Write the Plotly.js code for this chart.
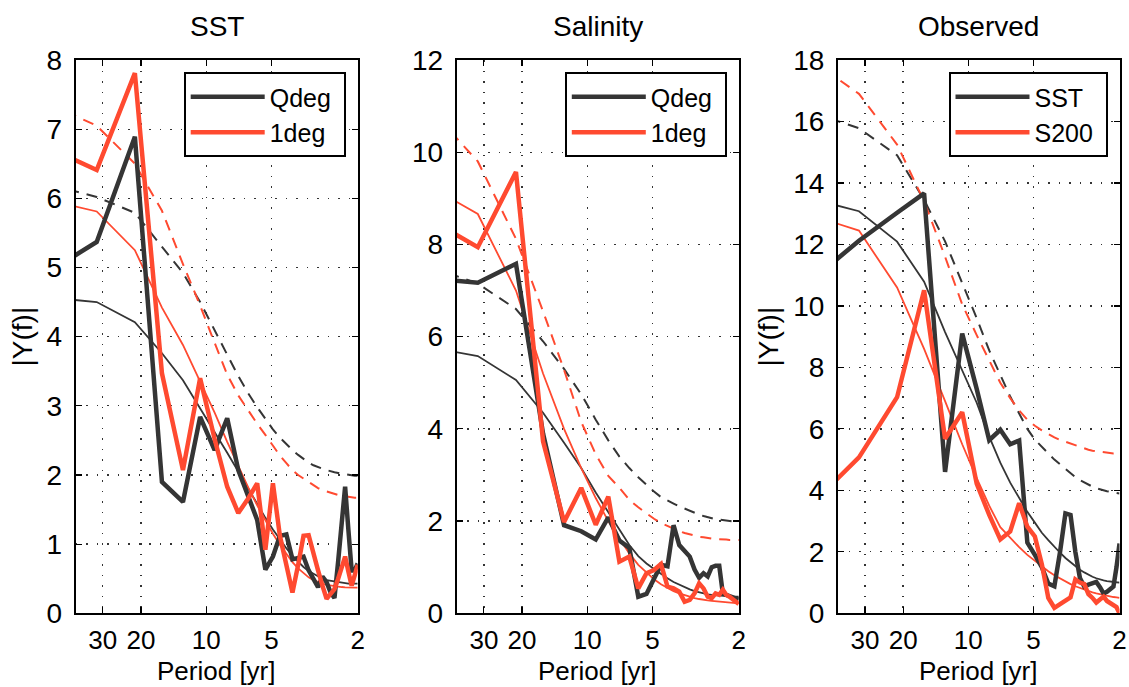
<!DOCTYPE html>
<html><head><meta charset="utf-8">
<script src="https://cdn.plot.ly/plotly-3.0.1.min.js"></script>
<style>html,body{margin:0;padding:0;background:#fff;}#chart{width:1129px;height:687px;}</style>
</head><body><div id="chart"></div>
<script>
// Periods (yr) of the spectral estimates (64-yr record, bins k = 1..32)
const periods = [64, 32, 21.333, 16, 12.8, 10.667, 9.143, 8, 7.111, 6.4, 5.818, 5.333, 4.923, 4.571, 4.267, 4,
                 3.765, 3.556, 3.368, 3.2, 3.048, 2.909, 2.783, 2.667, 2.56, 2.462, 2.370, 2.286, 2.207, 2.133, 2.065, 2];
const periodTicks = [30, 20, 10, 5, 2];
const periodTickLabels = ['30', '20', '10', '5', '2'];
const panelTitles = ['SST', 'Salinity', 'Observed'];
const xTitle = 'Period [yr]';
const yTitle = '|Y(f)|';

// Panel 1: SST
const sstQdeg      = [4.78,5.37,6.89,1.90,1.61,2.84,2.36,2.82,2.07,1.68,1.35,0.63,0.82,1.12,1.14,0.78,0.80,0.82,0.62,0.50,0.38,0.53,0.45,0.30,0.22,0.75,1.30,1.83,1.20,0.62,0.62,0.72];
const sst1deg      = [6.84,6.41,7.81,3.47,2.07,3.40,2.52,1.83,1.45,1.66,1.88,0.92,1.88,1.12,0.70,0.30,0.70,1.12,1.13,0.85,0.62,0.40,0.21,0.28,0.35,0.50,0.68,0.82,0.60,0.40,0.55,0.70];
const sstQdegFit   = [4.59,4.50,4.21,3.76,3.37,2.97,2.62,2.32,2.05,1.80,1.58,1.38,1.21,1.06,0.94,0.83,0.74,0.67,0.61,0.57,0.53,0.50,0.48,0.47,0.46,0.45,0.44,0.44,0.43,0.43,0.43,0.43];
const sst1degFit   = [6.03,5.81,5.25,4.42,3.88,3.35,2.90,2.48,2.12,1.82,1.56,1.34,1.15,0.99,0.86,0.74,0.65,0.58,0.52,0.48,0.45,0.43,0.41,0.40,0.39,0.385,0.38,0.375,0.37,0.37,0.37,0.37];
const sstQdegConf  = [6.27,6.02,5.79,5.30,4.92,4.50,4.08,3.74,3.43,3.18,2.98,2.81,2.66,2.54,2.44,2.36,2.29,2.23,2.18,2.14,2.11,2.09,2.07,2.05,2.04,2.03,2.02,2.01,2.00,2.00,1.99,1.99];
const sst1degConf  = [7.48,7.05,6.50,5.82,5.05,4.45,3.91,3.45,3.15,2.93,2.74,2.58,2.42,2.28,2.17,2.07,2.00,1.95,1.90,1.85,1.81,1.78,1.76,1.74,1.72,1.71,1.70,1.69,1.68,1.68,1.67,1.67];

// Panel 2: Salinity
const salQdeg      = [7.29,7.17,7.58,3.90,1.91,1.78,1.60,2.08,1.58,1.42,0.36,0.42,0.75,1.05,1.02,1.91,1.48,1.36,1.23,0.95,0.77,0.87,0.80,1.00,1.03,1.03,0.43,0.40,0.38,0.36,0.34,0.30];
const sal1deg      = [8.75,7.94,9.57,3.73,1.98,2.72,1.92,2.53,1.12,1.23,0.54,0.87,0.94,1.07,0.58,0.54,0.47,0.25,0.29,0.43,0.65,0.54,0.36,0.33,0.43,0.40,0.51,0.40,0.36,0.30,0.25,0.20];
const salQdegFit   = [5.83,5.58,5.06,4.35,3.70,3.15,2.62,2.20,1.80,1.48,1.24,1.08,0.96,0.85,0.76,0.68,0.62,0.56,0.52,0.48,0.45,0.43,0.41,0.40,0.39,0.38,0.375,0.37,0.365,0.36,0.36,0.36];
const sal1degFit   = [9.47,8.66,7.00,5.20,4.00,3.15,2.50,2.00,1.62,1.30,1.05,0.88,0.74,0.63,0.55,0.48,0.43,0.39,0.35,0.33,0.31,0.29,0.28,0.27,0.26,0.25,0.24,0.235,0.23,0.225,0.22,0.22];
const salQdegConf  = [7.65,7.15,6.60,5.90,5.30,4.75,4.20,3.75,3.40,3.15,2.95,2.78,2.64,2.52,2.44,2.38,2.32,2.27,2.22,2.18,2.14,2.11,2.08,2.06,2.04,2.03,2.02,2.01,2.00,1.99,1.99,1.98];
const sal1degConf  = [11.35,9.80,8.12,6.55,5.28,4.15,3.45,2.98,2.72,2.46,2.30,2.16,2.05,1.96,1.89,1.83,1.78,1.74,1.71,1.68,1.66,1.65,1.63,1.62,1.61,1.61,1.60,1.60,1.59,1.59,1.59,1.59];

// Panel 3: Observed
const obsSST       = [10.35,12.12,13.03,13.66,4.60,9.10,7.30,5.63,5.97,5.50,5.62,2.30,1.90,1.50,0.97,0.88,2.00,3.25,3.20,2.00,1.15,0.87,0.93,0.98,1.02,0.85,0.65,0.70,0.78,0.87,1.50,2.27];
const obsS200      = [2.99,5.07,7.03,10.51,5.68,6.54,4.22,3.20,2.40,2.66,3.58,2.82,2.50,1.60,0.50,0.18,0.30,0.42,0.52,1.10,1.00,0.95,0.62,0.50,0.35,0.45,0.54,0.40,0.32,0.27,0.20,0.00];
const obsSSTFit    = [13.64,13.08,12.09,10.79,9.15,7.90,6.85,5.75,4.90,4.25,3.75,3.30,2.95,2.62,2.38,2.15,1.97,1.80,1.66,1.53,1.42,1.33,1.25,1.19,1.14,1.10,1.07,1.05,1.03,1.02,1.01,1.00];
const obsS200Fit   = [13.13,12.45,10.60,8.60,6.90,5.50,4.40,3.50,2.80,2.45,2.15,1.90,1.70,1.52,1.37,1.24,1.13,1.03,0.95,0.88,0.82,0.77,0.72,0.68,0.65,0.62,0.59,0.57,0.55,0.53,0.52,0.50];
const obsSSTConf   = [16.49,15.78,14.90,13.45,12.10,10.75,9.60,8.55,7.75,7.05,6.50,6.00,5.65,5.40,5.20,5.00,4.85,4.68,4.55,4.43,4.33,4.25,4.18,4.12,4.07,4.03,4.00,3.97,3.95,3.93,3.92,3.90];
const obsS200Conf  = [18.39,16.90,15.25,13.40,11.60,10.05,9.05,8.20,7.50,7.00,6.60,6.30,6.10,5.95,5.82,5.72,5.64,5.58,5.50,5.45,5.40,5.36,5.32,5.29,5.27,5.25,5.23,5.22,5.21,5.20,5.20,5.19];

const legendNames = [['Qdeg','1deg'], ['Qdeg','1deg'], ['SST','S200']];
const yMax = [8, 12, 18];
const yStep = [1, 2, 2];

const BLACK = '#353535';
const RED = '#ff4a30';
const FONT = 'Liberation Sans, Arial, Helvetica, sans-serif';
const FS = 28;

const panels = [
  {thickA: sstQdeg, thickB: sst1deg, fitA: sstQdegFit, fitB: sst1degFit, confA: sstQdegConf, confB: sst1degConf},
  {thickA: salQdeg, thickB: sal1deg, fitA: salQdegFit, fitB: sal1degFit, confA: salQdegConf, confB: sal1degConf},
  {thickA: obsSST, thickB: obsS200, fitA: obsSSTFit, fitB: obsS200Fit, confA: obsSSTConf, confB: obsS200Conf}
];

const W = 1129, H = 687;
const xPix = [[75.7, 357.7], [456.8, 738.8], [838, 1119.5]];
const yDom = [1 - 613.3 / H, 1 - 60 / H];

const traces = [];
panels.forEach((p, i) => {
  const xa = i === 0 ? 'x' : 'x' + (i + 1);
  const ya = i === 0 ? 'y' : 'y' + (i + 1);
  const lg = i === 0 ? 'legend' : 'legend' + (i + 1);
  const mk = (y, color, width, dash, name, show) => ({
    type: 'scatter', mode: 'lines', x: periods, y: y, xaxis: xa, yaxis: ya,
    line: {color: color, width: width, dash: dash}, name: name || '',
    showlegend: !!show, legend: lg, hoverinfo: 'skip'
  });
  traces.push(mk(p.confA, BLACK, 2, '11px,8px'));
  traces.push(mk(p.confB, RED, 2, '11px,8px'));
  traces.push(mk(p.fitA, BLACK, 1.8, 'solid'));
  traces.push(mk(p.fitB, RED, 1.8, 'solid'));
  traces.push(mk(p.thickA, BLACK, 4.5, 'solid', legendNames[i][0] + '\u00a0', true));
  traces.push(mk(p.thickB, RED, 4.5, 'solid', legendNames[i][1] + '\u00a0', true));
});

const layout = {
  width: W, height: H, margin: {l: 0, r: 0, t: 0, b: 0},
  paper_bgcolor: '#fff', plot_bgcolor: '#fff',
  font: {family: FONT, size: FS, color: '#000'},
  annotations: [], shapes: []
};
for (let i = 0; i < 3; i++) {
  const sfx = i === 0 ? '' : String(i + 1);
  const cx = (xPix[i][0] + xPix[i][1]) / 2 / W;
  layout['xaxis' + sfx] = {
    domain: [xPix[i][0] / W, xPix[i][1] / W], anchor: 'y' + sfx,
    type: 'log', range: [Math.log10(40), Math.log10(2)],
    tickmode: 'array', tickvals: periodTicks, ticktext: periodTickLabels,
    ticks: 'inside', ticklen: 6, tickwidth: 1.2, tickcolor: '#000',
    showline: true, linecolor: '#000', linewidth: 2, mirror: 'allticks',
    showgrid: true, gridcolor: '#333', gridwidth: 1.3, griddash: '1.5px,9px',
    zeroline: false, tickfont: {family: FONT, size: 26, color: '#000'}, ticklabelstandoff: 2
  };
  const yTicks = [];
  for (let v = 0; v <= yMax[i]; v += yStep[i]) yTicks.push(v);
  layout['yaxis' + sfx] = {
    domain: yDom, anchor: 'x' + sfx, range: [0, yMax[i]],
    tickmode: 'array', tickvals: yTicks, ticktext: yTicks.map(String),
    ticks: 'inside', ticklen: 6, tickwidth: 1.2, tickcolor: '#000',
    showline: true, linecolor: '#000', linewidth: 2, mirror: 'allticks',
    showgrid: true, gridcolor: '#333', gridwidth: 1.3, griddash: '1.5px,9px',
    zeroline: false, tickfont: {family: FONT, size: FS, color: '#000'}, ticklabelstandoff: 6,
    title: i === 1 ? {text: ''} : {text: yTitle, font: {family: FONT, size: FS, color: '#000'}, standoff: 6}
  };
  layout.annotations.push({
    xref: 'paper', yref: 'paper', x: cx, y: 1 - 27 / H,
    xanchor: 'center', yanchor: 'middle', showarrow: false, text: panelTitles[i],
    font: {family: FONT, size: FS, color: '#000'}
  });
  layout.annotations.push({
    xref: 'paper', yref: 'paper', x: cx, y: 1 - 671 / H,
    xanchor: 'center', yanchor: 'middle', showarrow: false, text: xTitle,
    font: {family: FONT, size: 26, color: '#000'}
  });
  layout[i === 0 ? 'legend' : 'legend' + (i + 1)] = {
    x: (xPix[i][1] - 12) / W, y: 1 - 72 / H, xanchor: 'right', yanchor: 'top',
    bgcolor: '#fff', bordercolor: '#000', borderwidth: 2,
    font: {family: FONT, size: 25, color: '#000'}, itemwidth: 74, tracegroupgap: 0,
    itemclick: false, itemdoubleclick: false
  };
}

Plotly.newPlot('chart', traces, layout, {staticPlot: true, displayModeBar: false});
</script>
</body></html>
